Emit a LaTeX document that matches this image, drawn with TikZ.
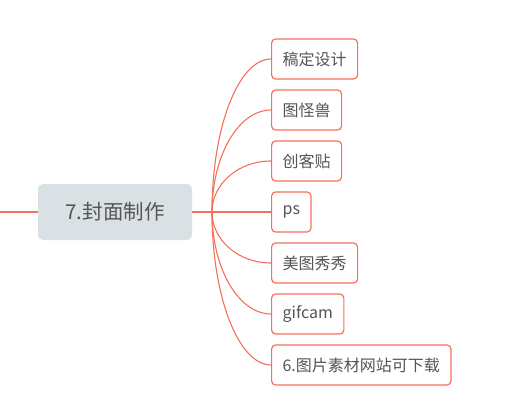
\documentclass[tikz,border=0pt]{standalone}
\usepackage{fontspec}
\setmainfont{Noto Sans CJK SC}
\usetikzlibrary{positioning,calc}
\definecolor{branchred}{RGB}{245,112,92}
\definecolor{topicgray}{RGB}{218,225,228}
\definecolor{textgray}{RGB}{85,85,85}
\begin{document}
\begin{tikzpicture}[x=1pt,y=-1pt,
  topic/.style={fill=topicgray, rounded corners=5pt, minimum width=154pt,
    minimum height=56pt, text=textgray, font=\fontsize{20.5}{24}\selectfont},
  leaf/.style={draw=branchred, line width=1.2pt, fill=white, rounded corners=4pt,
    minimum height=40pt, inner xsep=11pt, anchor=west, text=textgray,
    font=\fontsize{16}{18}\selectfont},
  trunk/.style={draw=branchred, line width=2.6pt},
  branch/.style={draw=branchred, line width=1.1pt}]
  \useasboundingbox (0,0) rectangle (519,409);
  % central topic and the line coming in from the left
  \node[topic] (topic) at (115,212) {7.封面制作};
  \coordinate (lend) at (0,212);
  \draw[trunk] (lend) -- (topic.west);
  % fan point where the branches split
  \coordinate (fan) at (212,212);
  \draw[branch] (topic.east) -- (fan);
  % subtopics
  \node[leaf] (c1) at (271,59)  {稿定设计};
  \node[leaf] (c2) at (271,110) {图怪兽};
  \node[leaf] (c3) at (271,161) {创客贴};
  \node[leaf] (c4) at (271,212) {ps};
  \node[leaf] (c5) at (271,263) {美图秀秀};
  \node[leaf] (c6) at (271,314) {gifcam};
  \node[leaf] (c7) at (271,365) {6.图片素材网站可下载};
  % curved branches, quarter ellipses from the fan point
  \foreach \c in {c1,c2,c3,c4,c5,c6,c7}
    \draw[branch] (fan) .. controls ($(fan)!0.552!(fan |- \c.west)$)
      and ($(\c.west)!0.552!(fan |- \c.west)$) .. (\c.west);
\end{tikzpicture}
\end{document}
